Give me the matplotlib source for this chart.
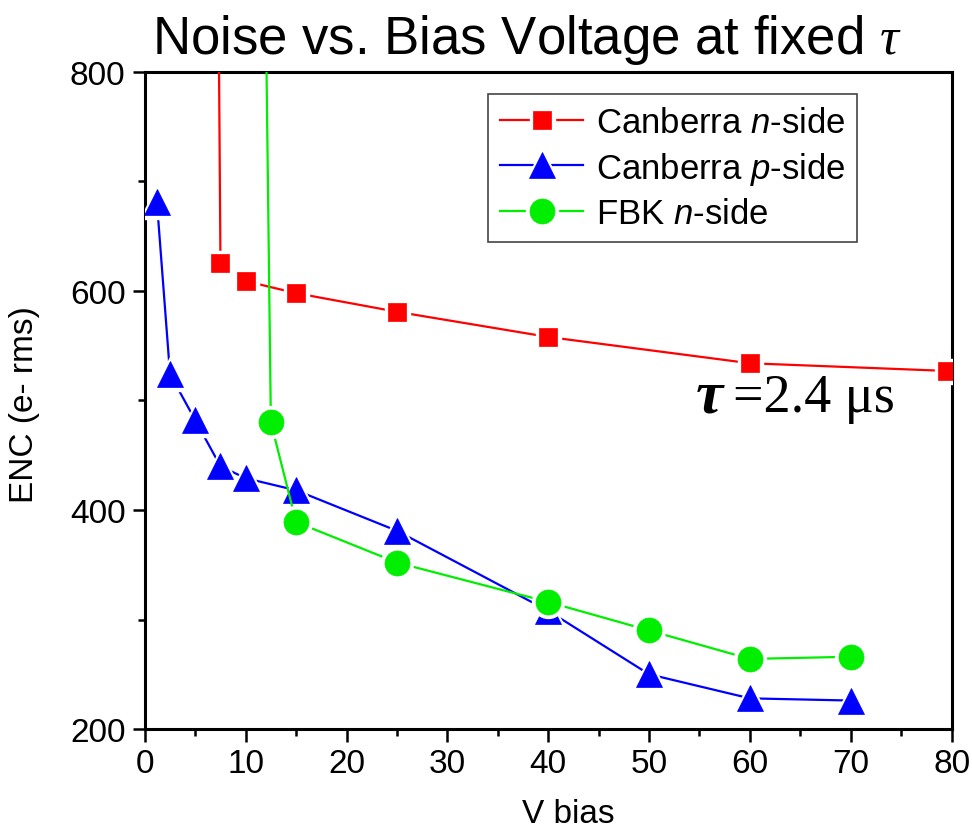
import numpy as np
import matplotlib
matplotlib.use('Agg')
import matplotlib.pyplot as plt
from matplotlib.lines import Line2D

plt.rcParams['font.family'] = ['Liberation Sans', 'DejaVu Sans']
# sans italic for n/p in the legend, serif italic tau via \mathsf
plt.rcParams['mathtext.fontset'] = 'custom'
plt.rcParams['mathtext.rm'] = 'Liberation Sans'
plt.rcParams['mathtext.it'] = 'Liberation Sans:italic'
plt.rcParams['mathtext.sf'] = 'Liberation Serif:italic'

# Canberra n-side (first point is off the top of the axis)
cn_v = [7.2, 7.5, 10, 15, 25, 40, 60, 79.5]
cn_enc = [1000, 626, 609, 598, 581, 558, 534, 527]

# Canberra p-side
cp_v = [1.2, 2.5, 5, 7.5, 10, 15, 25, 40, 50, 60, 70]
cp_enc = [681, 524, 482, 440, 429, 418, 381, 308, 250, 228, 226]

# FBK n-side (first point is off the top of the axis)
fbk_v = [11.8, 12.5, 15, 25, 40, 50, 60, 70]
fbk_enc = [1000, 480, 389, 352, 316, 290, 264, 266]

labels = ['Canberra $\\it{n}$-side', 'Canberra $\\it{p}$-side', 'FBK $\\it{n}$-side']
colors = ['#ff0000', '#0000ff', '#00ee00']
markers = ['s', '^', 'o']
sizes = [13, 19, 18]

fig = plt.figure(figsize=(9.72, 8.29), dpi=100)
ax = fig.add_axes([0.149, 0.1194, 0.830, 0.7926])

handles = []
series = [(cn_v, cn_enc), (cp_v, cp_enc), (fbk_v, fbk_enc)]
for i, (v, enc) in enumerate(series):
    z = 3 + i
    ax.plot(v, enc, '-', color=colors[i], lw=1.6, zorder=z)
    # white halo around markers gives the gap in the line, Origin style
    ax.plot(v, enc, ls='none', marker=markers[i], ms=sizes[i] + 5,
            mfc='white', mec='white', zorder=z)
    ax.plot(v, enc, ls='none', marker=markers[i], ms=sizes[i],
            mfc=colors[i], mec=colors[i], mew=0.5, zorder=z)
    h_line = Line2D([], [], color=colors[i], lw=1.6)
    h_halo = Line2D([], [], ls='none', marker=markers[i], ms=sizes[i] + 5,
                    mfc='white', mec='white')
    h_mark = Line2D([], [], ls='none', marker=markers[i], ms=sizes[i],
                    mfc=colors[i], mec=colors[i], mew=0.5)
    handles.append((h_line, h_halo, h_mark))

ax.set_xlim(0, 80)
ax.set_ylim(200, 800)
ax.set_xticks(np.arange(0, 81, 10))
ax.set_xticks(np.arange(0, 81, 5), minor=True)
ax.set_yticks([200, 400, 600, 800])
ax.set_yticks([300, 500, 700], minor=True)
ax.tick_params(which='both', direction='out', width=1.8, labelsize=24,
               top=False, right=False, pad=5)
ax.tick_params(which='major', length=9)
ax.tick_params(which='minor', length=5)
for sp in ax.spines.values():
    sp.set_linewidth(2.2)

leg = fig.legend(handles, labels, loc='upper left',
                 bbox_to_anchor=(0.502, 0.8854), borderaxespad=0,
                 fontsize=25, handlelength=2.4, handletextpad=0.35,
                 labelspacing=0.3, borderpad=0.35, fancybox=False,
                 framealpha=1, edgecolor='#444444')
leg.get_frame().set_linewidth(1.2)

# tau annotation
ax.text(54.6, 490, 'τ', fontfamily='Liberation Serif', style='italic',
        weight='bold', fontsize=44, ha='left', va='baseline', zorder=10)
ax.text(58.3, 490, '=2.4 μs', fontfamily='Liberation Serif',
        fontsize=39, ha='left', va='baseline', zorder=10)

fig.text(527 / 972, 1 - 54 / 829, 'Noise vs. Bias Voltage at fixed $\\mathsf{\\tau}$',
         fontsize=38, ha='center', va='baseline')
fig.text(568 / 972, 1 - 823 / 829, 'V bias', fontsize=24,
         ha='center', va='baseline')
fig.text(25 / 972, 1 - 405 / 829, 'ENC (e- rms)', fontsize=24,
         rotation=90, ha='center', va='center')

fig.savefig('out.png', dpi=100)
